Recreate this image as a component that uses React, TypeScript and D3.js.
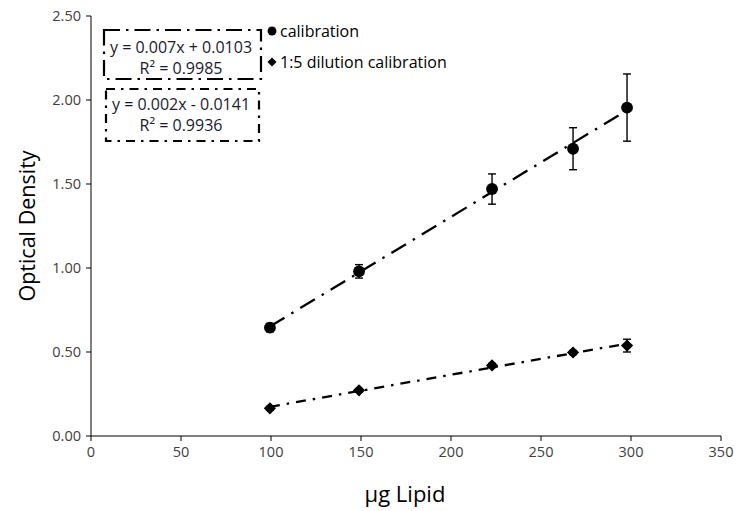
import React from "react";
import * as d3 from "d3";

const calibX = [99.4, 148.9, 222.8, 267.8, 297.8];
const calibY = [0.645, 0.98, 1.47, 1.71, 1.955];
const calibErr = [0.025, 0.04, 0.09, 0.125, 0.2];
const dilX = [99.4, 148.9, 222.8, 267.8, 297.8];
const dilY = [0.165, 0.272, 0.42, 0.497, 0.538];
const dilErr = [0.012, 0.01, 0.012, 0.012, 0.038];
const xTicks = [0, 50, 100, 150, 200, 250, 300, 350];
const yTicks = [0, 0.5, 1, 1.5, 2, 2.5];
const legendLabels = ["calibration", "1:5 dilution calibration"];
const eq1 = ["y = 0.007x + 0.0103", "R² = 0.9985"];
const eq2 = ["y = 0.002x - 0.0141", "R² = 0.9936"];

function fit(xs: number[], ys: number[]) {
  const mx = d3.mean(xs)!, my = d3.mean(ys)!;
  let sxy = 0, sxx = 0;
  xs.forEach((x, i) => { sxy += (x - mx) * (ys[i] - my); sxx += (x - mx) ** 2; });
  const b = sxy / sxx;
  return { b, a: my - b * mx };
}

export default function App() {
  const W = 737, H = 511;
  const x = d3.scaleLinear().domain([0, 350]).range([91, 721]);
  const y = d3.scaleLinear().domain([0, 2.5]).range([436, 16]);
  const font = "'Open Sans', 'Liberation Sans', sans-serif";
  const tc = "#404040";
  const f1 = fit(calibX, calibY);
  const f2 = fit(dilX, dilY);
  const line = d3.line<[number, number]>().x(d => x(d[0])).y(d => y(d[1]));
  const x0 = d3.min(calibX)!, x1 = d3.max(calibX)!;
  const l1 = line([[x0, f1.a + f1.b * x0], [x1, f1.a + f1.b * x1]])!;
  const d0 = d3.min(dilX)!, d1 = d3.max(dilX)!;
  const l2 = line([[d0, f2.a + f2.b * d0], [d1, f2.a + f2.b * d1]])!;
  const diamond = d3.symbol().type(d3.symbolDiamond2).size(95)()!;
  const circle = d3.symbol().type(d3.symbolCircle).size(110)()!;

  return (
    <svg width={W} height={H} style={{ position: "absolute", left: 0, top: 0, background: "#fff" }}>
      <rect width={W} height={H} fill="#fff" />
      {/* axes */}
      <line x1={x(0)} x2={x(0)} y1={y(0)} y2={y(2.5)} stroke="#000" strokeWidth={1} />
      <line x1={x(0)} x2={x(350)} y1={y(0)} y2={y(0)} stroke="#000" strokeWidth={1} />
      {yTicks.map(t => (
        <g key={"y" + t}>
          <line x1={x(0) - 5} x2={x(0)} y1={y(t)} y2={y(t)} stroke="#000" />
          <text x={x(0) - 10} y={y(t)} dy="0.35em" textAnchor="end" fontFamily={font} fontSize={14.5} fill={tc}>{t.toFixed(2)}</text>
        </g>
      ))}
      {xTicks.map(t => (
        <g key={"x" + t}>
          <line x1={x(t)} x2={x(t)} y1={y(0)} y2={y(0) + 5} stroke="#000" />
          <text x={x(t)} y={y(0) + 21} textAnchor="middle" fontFamily={font} fontSize={14.5} fill={tc}>{t}</text>
        </g>
      ))}
      <text transform={`translate(27,${(y(0) + y(2.5)) / 2}) rotate(-90)`} textAnchor="middle" dy="0.35em" fontFamily={font} fontSize={21.5} fill="#000">Optical Density</text>
      <text x={(x(0) + x(350)) / 2 - 1} y={502} textAnchor="middle" fontFamily={font} fontSize={22} fill="#000">μg Lipid</text>
      {/* trendlines */}
      <path d={l1} stroke="#000" strokeWidth={2.3} fill="none" strokeDasharray="17 8 2.5 8" />
      <path d={l2} stroke="#000" strokeWidth={2.3} fill="none" strokeDasharray="10 7 2.5 7" />
      {/* error bars */}
      {calibX.map((v, i) => (
        <g key={"ce" + i} stroke="#000" strokeWidth={1.4}>
          <line x1={x(v)} x2={x(v)} y1={y(calibY[i] - calibErr[i])} y2={y(calibY[i] + calibErr[i])} />
          <line x1={x(v) - 4} x2={x(v) + 4} y1={y(calibY[i] - calibErr[i])} y2={y(calibY[i] - calibErr[i])} />
          <line x1={x(v) - 4} x2={x(v) + 4} y1={y(calibY[i] + calibErr[i])} y2={y(calibY[i] + calibErr[i])} />
        </g>
      ))}
      {dilX.map((v, i) => (
        <g key={"de" + i} stroke="#000" strokeWidth={1.4}>
          <line x1={x(v)} x2={x(v)} y1={y(dilY[i] - dilErr[i])} y2={y(dilY[i] + dilErr[i])} />
          <line x1={x(v) - 4} x2={x(v) + 4} y1={y(dilY[i] - dilErr[i])} y2={y(dilY[i] - dilErr[i])} />
          <line x1={x(v) - 4} x2={x(v) + 4} y1={y(dilY[i] + dilErr[i])} y2={y(dilY[i] + dilErr[i])} />
        </g>
      ))}
      {calibX.map((v, i) => (
        <path key={"c" + i} d={circle} transform={`translate(${x(v)},${y(calibY[i])})`} fill="#000" />
      ))}
      {dilX.map((v, i) => (
        <path key={"d" + i} d={diamond} transform={`translate(${x(v)},${y(dilY[i])})`} fill="#000" />
      ))}
      {/* equation boxes */}
      <rect x={104} y={30} width={157} height={49} fill="#fff" stroke="#000" strokeWidth={2.2} strokeDasharray="16 6 2.5 6" />
      {eq1.map((t, i) => (
        <text key={"e1" + i} x={181} y={47 + i * 21} dy="0.35em" textAnchor="middle" fontFamily={font} fontSize={16} fill="#1a1a2e">{t}</text>
      ))}
      <rect x={106} y={89} width={153} height={52} fill="#fff" stroke="#000" strokeWidth={2.2} strokeDasharray="9 6 2.5 6" />
      {eq2.map((t, i) => (
        <text key={"e2" + i} x={181} y={104 + i * 21} dy="0.35em" textAnchor="middle" fontFamily={font} fontSize={16} fill="#1a1a2e">{t}</text>
      ))}
      {/* legend */}
      <path d={circle} transform="translate(272,31) scale(0.75)" fill="#000" />
      <text x={280} y={31} dy="0.35em" fontFamily={font} fontSize={16} fill="#000">{legendLabels[0]}</text>
      <path d={diamond} transform="translate(272,62) scale(0.75)" fill="#000" />
      <text x={280} y={62} dy="0.35em" fontFamily={font} fontSize={16} fill="#000">{legendLabels[1]}</text>
    </svg>
  );
}
